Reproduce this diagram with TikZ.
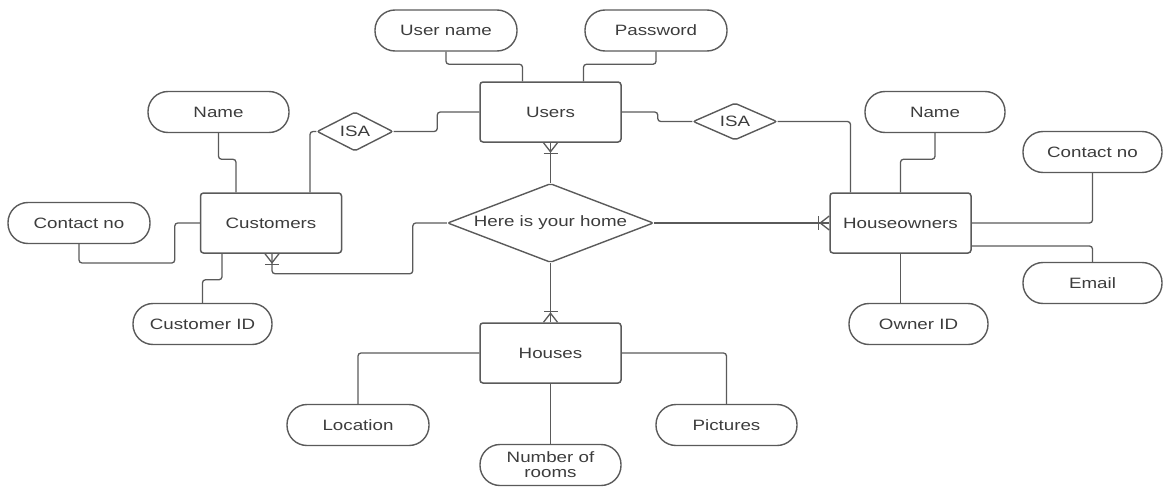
\documentclass[tikz,border=0pt]{standalone}
\usepackage{fontspec}
\setmainfont{Liberation Sans}
\usetikzlibrary{shapes.geometric,calc}
\definecolor{ln}{HTML}{5A5A5A}
\definecolor{tx}{HTML}{3C3C3C}
\newcommand{\wtxt}[1]{\scalebox{1.25}[1]{#1}}
\newcommand{\crowfoot}[2]{%
  \begin{scope}[shift={(#1)}, rotate=#2]
    \draw[conn, rounded corners=0pt] (-7,0) -- (0,9) -- (7,0);
    \draw[conn, rounded corners=0pt] (-7,11) -- (7,11);
  \end{scope}}
\begin{document}
\begin{tikzpicture}[x=1pt,y=-1pt,
  every node/.style={font=\fontsize{15}{15}\selectfont, text=tx},
  entity/.style={draw=ln, line width=1.5pt, rounded corners=3pt, minimum width=141pt, minimum height=60pt, inner sep=0pt},
  attr/.style={draw=ln, line width=1.4pt, rounded corners=20pt, minimum height=41pt, inner sep=0pt},
  rel/.style={diamond, draw=ln, line width=1.4pt, inner sep=0pt, rounded corners=2pt},
  conn/.style={draw=ln, line width=1.3pt, rounded corners=3pt}]
\useasboundingbox (0,0) rectangle (1164,487);

% entities
\node[entity] (users) at (550.5,112) {\wtxt{Users}};
\node[entity] (cust) at (271,223) {\wtxt{Customers}};
\node[entity] (owners) at (900.5,223) {\wtxt{Houseowners}};
\node[entity] (houses) at (550.5,353) {\wtxt{Houses}};

% relationships
\node[rel, aspect=2.6, minimum width=206pt, minimum height=79pt] (home) at (550.5,223) {\wtxt{Here is your home}};
\node[rel, aspect=1.95, minimum width=76pt, minimum height=39pt] (isa1) at (355,131.5) {\wtxt{ISA}};
\node[rel, aspect=2.27, minimum width=84pt, minimum height=37pt] (isa2) at (735,121.5) {\wtxt{ISA}};

% attributes
\node[attr, minimum width=142pt] (uname) at (446,30.5) {\wtxt{User name}};
\node[attr, minimum width=142pt] (pwd) at (656,30.5) {\wtxt{Password}};
\node[attr, minimum width=141pt] (cname) at (218.5,112) {\wtxt{Name}};
\node[attr, minimum width=142pt] (ccontact) at (79,223) {\wtxt{Contact no}};
\node[attr, minimum width=139pt] (cid) at (202.5,324) {\wtxt{Customer ID}};
\node[attr, minimum width=140pt] (oname) at (935,112) {\wtxt{Name}};
\node[attr, minimum width=139pt] (ocontact) at (1092.5,152) {\wtxt{Contact no}};
\node[attr, minimum width=139pt] (email) at (1092.5,283) {\wtxt{Email}};
\node[attr, minimum width=139pt] (oid) at (918.5,324) {\wtxt{Owner ID}};
\node[attr, minimum width=142pt] (loc) at (358,425) {\wtxt{Location}};
\node[attr, minimum width=141pt] (pics) at (726.5,425) {\wtxt{Pictures}};
\node[attr, minimum width=141pt, align=center] (rooms) at (550.5,465) {\wtxt{Number of}\\\wtxt{rooms}};

% user attributes
\draw[conn] (uname.south) |- ($(users.north)+(-28,-17)$) -- ($(users.north)+(-28,0)$);
\draw[conn] (pwd.south) |- ($(users.north)+(33,-17)$) -- ($(users.north)+(33,0)$);

% ISA links
\draw[conn] (users.west) -- ++(-42,0) |- (isa1.east);
\draw[conn] (isa1.west) -| ($(cust.north)+(39,0)$);
\draw[conn] (users.east) -- ++(36,0) |- (isa2.west);
\draw[conn] (isa2.east) -| ($(owners.north)+(-50,0)$);

% customer attributes
\draw[conn] (cname.south) |- ($(cust.north)+(-35,-33)$) -- ($(cust.north)+(-35,0)$);
\draw[conn] (ccontact.south) |- ($(cust.west)+(-25,40)$) |- (cust.west);
\draw[conn] (cid.north) |- ($(cust.south)+(-49,26)$) -- ($(cust.south)+(-49,0)$);

% relationship links
\draw[conn] (home.west) -- ++(-34,0) |- ($(cust.south)+(1,20)$) -- ($(cust.south)+(1,0)$);
\draw[conn] (home.north) -- (users.south);
\draw[conn] (home.east) -- (owners.west);
\draw[conn] (home.south) -- (houses.north);

% crow's feet
\crowfoot{users.south}{0}
\crowfoot{$(cust.south)+(1,0)$}{0}
\crowfoot{houses.north}{180}
\crowfoot{owners.west}{-90}

% houseowner attributes
\draw[conn] (oname.south) |- ($(owners.north)+(0,-33)$) -- (owners.north);
\draw[conn] (ocontact.south) |- (owners.east);
\draw[conn] ($(owners.east)+(0,23)$) -| (email.north);
\draw[conn] (owners.south) -- ($(oid.north)+(-18,0)$);

% house attributes
\draw[conn] (houses.west) -| (loc.north);
\draw[conn] (houses.east) -| (pics.north);
\draw[conn] (houses.south) -- (rooms.north);
\end{tikzpicture}
\end{document}
